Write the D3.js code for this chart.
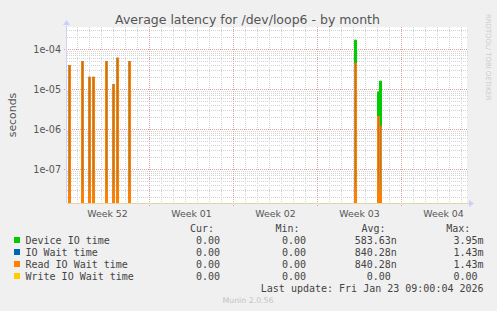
<!DOCTYPE html>
<html><head><meta charset="utf-8">
<script src="https://cdn.jsdelivr.net/npm/d3@7/dist/d3.min.js"></script>
<style>
html,body{margin:0;padding:0;background:#f0f0f0;}
svg{display:block;}
text{white-space:pre;}
</style></head><body>
<svg id="c" width="497" height="311"></svg>
<script>
// ---------- data ----------
const title = "Average latency for /dev/loop6 - by month";
const yAxisLabel = "seconds";
const yTickValues = [1e-7, 1e-6, 1e-5, 1e-4];
const yTickLabels = ["1e-07", "1e-06", "1e-05", "1e-04"];
const weekStarts = ["2025-12-22", "2025-12-29", "2026-01-05", "2026-01-12", "2026-01-19"];
const weekLabels = ["Week 52", "Week 01", "Week 02", "Week 03", "Week 04"];

const deviceTimes  = ["2026-01-15T02:00Z", "2026-01-17T00:00Z", "2026-01-17T04:00Z"];
const deviceValues = [1.7e-4, 8.6e-6, 1.6e-5];

const readTimes = ["2025-12-22T06:00Z", "2025-12-23T08:00Z", "2025-12-23T22:00Z", "2025-12-24T06:00Z",
                   "2025-12-25T08:00Z", "2025-12-25T22:00Z", "2025-12-26T06:00Z", "2025-12-27T06:00Z",
                   "2026-01-15T02:00Z", "2026-01-17T00:00Z", "2026-01-17T04:00Z"];
const readValues = [3.9e-5, 4.9e-5, 2.0e-5, 2.0e-5, 4.9e-5, 1.3e-5, 6.0e-5, 4.9e-5, 4.5e-5, 2.1e-6, 1.2e-6];

const ioWaitTimes = readTimes.slice();
const ioWaitValues = readValues.slice();

const writeTimes = [];
const writeValues = [];

const seriesNames = ["Device IO time", "IO Wait time", "Read IO Wait time", "Write IO Wait time"];
const seriesColors = ["#00cc00", "#0066b3", "#ff8000", "#ffcc00"];
const curValues = ["0.00", "0.00", "0.00", "0.00"];
const minValues = ["0.00", "0.00", "0.00", "0.00"];
const avgValues = ["583.63n", "840.28n", "840.28n", "0.00"];
const maxValues = ["3.95m", "1.43m", "1.43m", "0.00"];
const lastUpdate = "Last update: Fri Jan 23 09:00:04 2026";
const footer = "Munin 2.0.56";
const sideText = "RRDTOOL/ TOBI OETIKER";

// ---------- layout ----------
const L = 67, R = 467, T = 27, B = 203;
const svg = d3.select("#c");
const x = d3.scaleUtc()
  .domain([Date.UTC(2025, 11, 22, 4), Date.UTC(2026, 0, 24, 12)])
  .range([L, R]);
const y = d3.scaleLog()
  .domain([Math.pow(10, -7.8425), Math.pow(10, -3.4425)])
  .range([B, T]);

svg.append("rect").attr("width", 497).attr("height", 311).attr("fill", "#f0f0f0");
svg.append("rect").attr("x", L).attr("y", T).attr("width", R - L).attr("height", B - T).attr("fill", "#ffffff");

const defs = svg.append("defs");
const grad = defs.append("linearGradient").attr("id", "brown")
  .attr("gradientUnits", "userSpaceOnUse").attr("x1", 0).attr("x2", 0).attr("y1", T).attr("y2", B);
grad.append("stop").attr("offset", 0).attr("stop-color", "#a47c40");
grad.append("stop").attr("offset", 0.85).attr("stop-color", "#ad7f38");
grad.append("stop").attr("offset", 0.96).attr("stop-color", "#f08416");
grad.append("stop").attr("offset", 1).attr("stop-color", "#ff8000");

const snap = v => Math.round(v) + 0.5;

// ---------- grid ----------
const g = svg.append("g");
const [d0, d1] = y.domain();
const minorVals = [], majorVals = [];
for (let k = -9; k <= -3; k++) {
  for (let m = 1; m <= 9; m++) {
    const v = m * Math.pow(10, k);
    if (v >= d0 && v <= d1) (m === 1 ? majorVals : minorVals).push(v);
  }
}
g.selectAll(".hmin").data(minorVals).join("line")
  .attr("x1", L).attr("x2", R + 1)
  .attr("y1", d => snap(y(d))).attr("y2", d => snap(y(d)))
  .attr("stroke", "#d2d2d2").attr("stroke-dasharray", "1,1");
const days = d3.utcDay.range(x.domain()[0], x.domain()[1]);
g.selectAll(".vmin").data(days.filter(d => d.getUTCDay() !== 1)).join("line")
  .attr("x1", d => snap(x(d))).attr("x2", d => snap(x(d)))
  .attr("y1", T).attr("y2", B + 2)
  .attr("stroke", "#d2d2d2").attr("stroke-dasharray", "1,1");
g.selectAll(".hmaj").data(majorVals).join("line")
  .attr("x1", L - 3).attr("x2", R + 1)
  .attr("y1", d => snap(y(d))).attr("y2", d => snap(y(d)))
  .attr("stroke", "#e0a0a0").attr("stroke-dasharray", "1,1");
const mondays = d3.utcMonday.range(x.domain()[0], x.domain()[1]);
g.selectAll(".vmaj").data(mondays).join("line")
  .attr("x1", d => snap(x(d))).attr("x2", d => snap(x(d)))
  .attr("y1", T).attr("y2", B + 3)
  .attr("stroke", "#e0a0a0").attr("stroke-dasharray", "1,1");

// ---------- series ----------
const stepMs = 4 * 3600 * 1000;
function spikes(times, values, stroke, fill) {
  const pts = times.map((t, i) => ({ t: new Date(t), v: values[i] }));
  const gg = svg.append("g");
  gg.selectAll("path").data(pts).join("path")
    .attr("d", d => {
      const x0 = snap(x(d.t)), x1 = snap(x(new Date(+d.t + stepMs)));
      const yv = y(d.v);
      return `M${x0},${B}L${x0},${yv}L${x1},${yv}L${x1},${B}`;
    })
    .attr("fill", fill).attr("stroke", stroke).attr("stroke-width", 1);
}
spikes(deviceTimes, deviceValues, seriesColors[0], seriesColors[0]);
spikes(ioWaitTimes, ioWaitValues, seriesColors[1], seriesColors[1]);
spikes(readTimes, readValues, seriesColors[2], "url(#brown)");
spikes(writeTimes, writeValues, seriesColors[3], seriesColors[3]);

// ---------- axes ----------
svg.append("line").attr("x1", L).attr("x2", R + 3).attr("y1", B + 0.5).attr("y2", B + 0.5)
  .attr("stroke", "#ddd6ac");
svg.append("line").attr("x1", L - 0.5).attr("x2", L - 0.5).attr("y1", B).attr("y2", T - 3)
  .attr("stroke", "#d0d4f4");
svg.append("path").attr("d", `M${R + 2},${B - 3}L${R + 7},${B + 0.5}L${R + 2},${B + 4}Z`).attr("fill", "#c8d0ff");
svg.append("path").attr("d", `M${L - 4},${T - 2}L${L - 0.5},${T - 7}L${L + 3},${T - 2}Z`).attr("fill", "#c8d0ff");

const txt = "#555555";
svg.selectAll(".yt").data(yTickValues).join("text")
  .attr("x", 61).attr("y", d => y(d) + 3.5)
  .attr("text-anchor", "end").attr("font-family", "DejaVu Sans").attr("font-size", 9.6)
  .attr("fill", txt).text((d, i) => yTickLabels[i]);
svg.selectAll(".xt").data(weekStarts).join("text")
  .attr("x", d => x(new Date(Date.parse(d + "T00:00Z") + 3.5 * 86400000)) + 0.5)
  .attr("y", 216.5)
  .attr("text-anchor", "middle").attr("font-family", "DejaVu Sans").attr("font-size", 9.4)
  .attr("fill", txt).text((d, i) => weekLabels[i]);

svg.append("text").attr("x", 247.5).attr("y", 24).attr("text-anchor", "middle")
  .attr("font-family", "DejaVu Sans").attr("font-size", 12.5).attr("fill", "#555555").text(title);
svg.append("text").attr("transform", "translate(15.5,115) rotate(-90)").attr("text-anchor", "middle")
  .attr("font-family", "DejaVu Sans").attr("font-size", 10.9).attr("fill", txt).text(yAxisLabel);
svg.append("text").attr("transform", "translate(485.5,14) rotate(90)").attr("text-anchor", "start")
  .attr("font-family", "DejaVu Sans").attr("font-size", 6.9).attr("fill", "#cccccc").text(sideText);

// ---------- legend ----------
const mono = "DejaVu Sans Mono";
const lg = svg.append("g").attr("font-family", mono).attr("font-size", 10).attr("fill", "#444444");
const fmt = s => { const m = s.match(/^([\d.]+)([a-zµ]?)$/); return m[1].padStart(6) + (m[2] || " "); };
[["Cur:", 190], ["Min:", 275.5], ["Avg:", 361.5], ["Max:", 446.2]].forEach(([h, hx]) =>
  lg.append("text").attr("x", hx).attr("y", 231.5).text(h));
seriesNames.forEach((n, i) => {
  const by = 243.5 + i * 12;
  lg.append("rect").attr("x", 14).attr("y", by - 6.5).attr("width", 6).attr("height", 6).attr("fill", seriesColors[i]);
  lg.append("text").attr("x", 25.5).attr("y", by).text(n);
  lg.append("text").attr("x", 184).attr("y", by).text(fmt(curValues[i]));
  lg.append("text").attr("x", 270).attr("y", by).text(fmt(minValues[i]));
  lg.append("text").attr("x", 354.7).attr("y", by).text(fmt(avgValues[i]));
  lg.append("text").attr("x", 441.4).attr("y", by).text(fmt(maxValues[i]));
});
lg.append("text").attr("x", 260.8).attr("y", 291.5).text(lastUpdate);
svg.append("text").attr("x", 248).attr("y", 302.5).attr("text-anchor", "middle")
  .attr("font-family", "DejaVu Sans").attr("font-size", 7.8).attr("fill", "#c4c4c4").text(footer);
</script>
</body></html>
